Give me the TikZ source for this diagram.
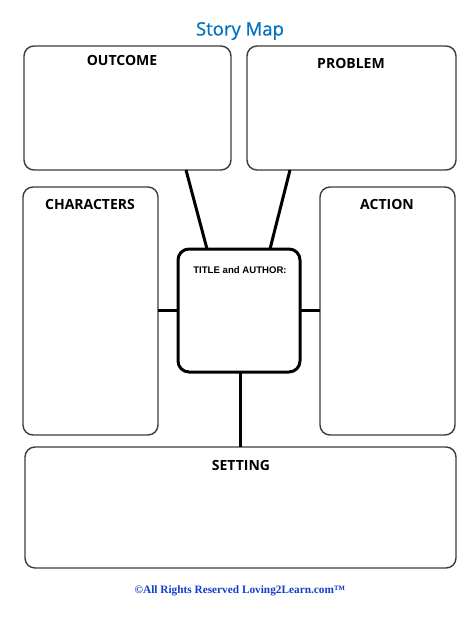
\documentclass[tikz,border=0pt]{standalone}
\usepackage{fontspec}
\setmainfont{Liberation Serif}
\newfontfamily\headfont{Open Sans}
\newfontfamily\titlefont[FakeBold=0.6]{Open Sans}
\newfontfamily\smallfont{Liberation Sans}
\definecolor{titleblue}{RGB}{0,112,192}
\definecolor{footblue}{RGB}{20,60,200}
\definecolor{boxgray}{RGB}{60,60,60}
\begin{document}
\begin{tikzpicture}[x=1pt,y=-1pt,
  panel/.style={draw=boxgray,line width=1.4pt,rounded corners=10pt},
  hub/.style={draw=black,line width=3pt,rounded corners=11pt},
  link/.style={draw=black,line width=3pt},
  lbl/.style={font=\headfont\bfseries\fontsize{14}{16}\selectfont,anchor=center},
]
\useasboundingbox (0,0) rectangle (474,618);
\fill[white] (0,0) rectangle (474,618);
\node[font=\titlefont\fontsize{18.5}{22}\selectfont,text=titleblue] (title) at (240,31) {Story Map};
% panels
\path[panel] (24,46) rectangle (231,170);
\coordinate (outB) at (186,170);
\path[panel] (247,46) rectangle (456,170);
\coordinate (proB) at (290,170);
\path[panel] (23,187) rectangle (158,435);
\coordinate (chaR) at (158,310);
\path[panel] (320,187) rectangle (455,435);
\coordinate (actL) at (320,310);
\path[panel] (25,447) rectangle (456,568);
\coordinate (setT) at (240,447);
% hub
\path[hub] (178,249) rectangle (300,372);
\coordinate (hubTL) at (207,249);
\coordinate (hubTR) at (270,249);
\coordinate (hubL) at (178,310);
\coordinate (hubR) at (300,310);
\coordinate (hubB) at (240,372);
% connectors
\draw[link] (outB) -- (hubTL);
\draw[link] (proB) -- (hubTR);
\draw[link] (chaR) -- (hubL);
\draw[link] (actL) -- (hubR);
\draw[link] (hubB) -- (setT);
% labels
\node[lbl] (outcome) at (122,60) {OUTCOME};
\node[lbl] (problem) at (351,63) {PROBLEM};
\node[lbl] (characters) at (90,204) {CHARACTERS};
\node[lbl] (action) at (387,204) {ACTION};
\node[lbl] (setting) at (241,465) {SETTING};
\node[font=\smallfont\bfseries\fontsize{9.6}{11}\selectfont] (ta) at (240,270) {TITLE and AUTHOR:};
\node[font=\bfseries\fontsize{11.3}{13}\selectfont,text=footblue] (foot) at (240,591) {©All Rights Reserved Loving2Learn.com™};
\end{tikzpicture}
\end{document}
